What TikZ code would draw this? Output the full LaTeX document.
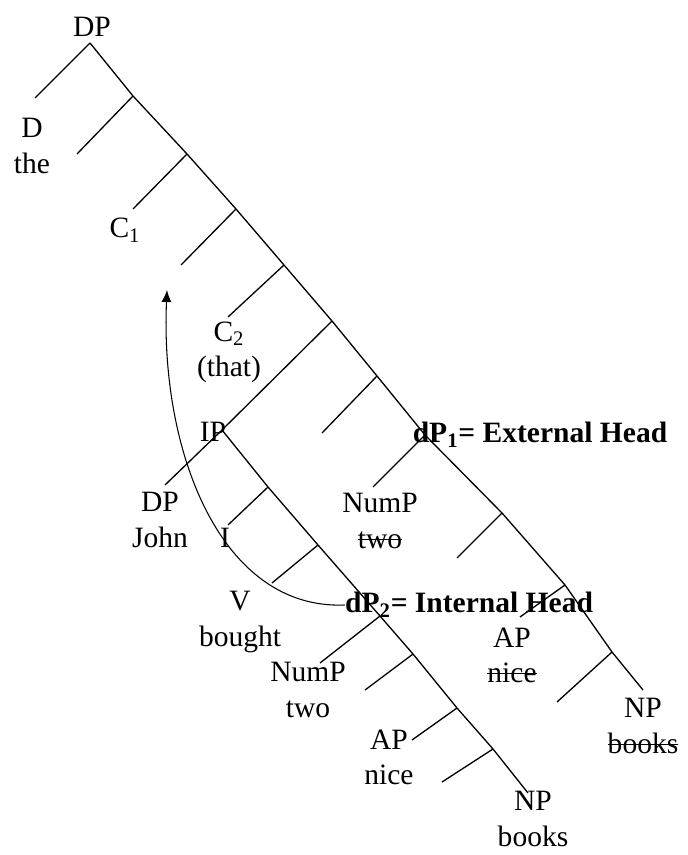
\documentclass[tikz,border=0pt]{standalone}
\usepackage{fontspec}
\setmainfont{Liberation Serif}
\usepackage{tikz}
\usetikzlibrary{arrows.meta,positioning,calc}
\newcommand\struck[1]{\setbox0\hbox{#1}\rlap{\rule[0.28em]{\wd0}{0.6pt}}\box0}

\begin{document}
\begin{tikzpicture}[
  lbl/.style={align=center, inner sep=0pt, font=\fontsize{16.8}{20}\selectfont},
  headlbl/.style={lbl, font=\fontsize{16.8}{20}\selectfont\bfseries},
  br/.style={line width=0.75pt},
  >=Stealth
]
\useasboundingbox (0,0) rectangle (13.74,-17.10);

% outer spine (DP ... dP1)
\coordinate (t0) at (1.80,-0.86);
\coordinate (t1) at (2.66,-1.92);
\coordinate (t2) at (3.74,-3.08);
\coordinate (t3) at (4.72,-4.18);
\coordinate (t4) at (5.68,-5.30);
\coordinate (t5) at (6.64,-6.42);
\coordinate (t6) at (7.54,-7.52);
\coordinate (d1) at (8.50,-8.70);
\coordinate (t7) at (10.04,-10.26);
\coordinate (t8) at (11.30,-11.70);
\coordinate (t9) at (12.24,-13.04);
\coordinate (t10) at (12.86,-13.80);

% inner spine (IP ... dP2)
\coordinate (ipv) at (4.44,-8.60);
\coordinate (i1) at (5.36,-9.74);
\coordinate (i2) at (6.36,-10.90);
\coordinate (d2) at (7.60,-12.32);
\coordinate (i3) at (8.26,-13.08);
\coordinate (i4) at (9.14,-14.16);
\coordinate (i5) at (9.86,-14.98);
\coordinate (i6) at (10.56,-15.86);

% branch ends
\coordinate (dend) at (0.70,-1.96);
\coordinate (b1) at (1.54,-3.08);
\coordinate (cone) at (2.66,-4.18);
\coordinate (b3) at (3.62,-5.30);
\coordinate (ctwo) at (4.56,-6.34);
\coordinate (johnend) at (3.30,-9.70);
\coordinate (b6) at (6.44,-8.66);
\coordinate (numend) at (7.46,-9.74);
\coordinate (b7) at (9.14,-11.16);
\coordinate (apend) at (10.40,-12.34);
\coordinate (b9) at (11.14,-14.04);
\coordinate (iend) at (4.56,-10.50);
\coordinate (vend) at (5.44,-11.66);
\coordinate (numtwoend) at (6.40,-13.26);
\coordinate (c3) at (7.30,-13.80);
\coordinate (aptwoend) at (8.24,-14.80);
\coordinate (c5) at (8.84,-15.64);
\coordinate (landing) at (3.34,-5.80);

% labels
\node[lbl] (dp) at (1.84,-0.54) {DP};
\node[lbl] (dthe) at (0.64,-2.92) {D\\the};
\node[lbl] (cone lbl) at (2.50,-4.60) {C\textsubscript{1}};
\node[lbl] (ctwo lbl) at (4.58,-7.04) {C\textsubscript{2}\\(that)};
\node[lbl] (ip) at (4.26,-8.64) {IP};
\node[lbl] (john) at (3.20,-10.40) {DP\\John};
\node[lbl] (infl) at (4.50,-10.76) {I};
\node[lbl] (bought) at (4.80,-12.44) {V\\bought};
\node[lbl] (numone) at (7.60,-10.42) {NumP\\\struck{two}};
\node[headlbl] (dpone) at (10.80,-8.70) {dP\textsubscript{1}= External Head};
\node[headlbl] (dptwo) at (9.38,-12.10) {dP\textsubscript{2}= Internal Head};
\node[lbl] (numtwo) at (6.16,-13.80) {NumP\\two};
\node[lbl] (apone) at (10.24,-13.10) {AP\\\struck{nice}};
\node[lbl] (aptwo) at (7.78,-15.14) {AP\\nice};
\node[lbl] (npone) at (12.86,-14.52) {NP\\\struck{books}};
\node[lbl] (nptwo) at (10.66,-16.38) {NP\\books};

% spines
\draw[br] (t0) -- (t1) -- (t2) -- (t3) -- (t4) -- (t5) -- (t6) -- (d1) -- (t7) -- (t8) -- (t9) -- (t10);
\draw[br] (t5) -- (ipv) -- (johnend);
\draw[br] (ipv) -- (i1) -- (i2) -- (d2) -- (i3) -- (i4) -- (i5) -- (i6);

% left branches
\draw[br] (t0) -- (dend);
\draw[br] (t1) -- (b1);
\draw[br] (t2) -- (cone);
\draw[br] (t3) -- (b3);
\draw[br] (t4) -- (ctwo);
\draw[br] (t6) -- (b6);
\draw[br] (d1) -- (numend);
\draw[br] (t7) -- (b7);
\draw[br] (t8) -- (apend);
\draw[br] (t9) -- (b9);
\draw[br] (i1) -- (iend);
\draw[br] (i2) -- (vend);
\draw[br] (d2) -- (numtwoend);
\draw[br] (i3) -- (c3);
\draw[br] (i4) -- (aptwoend);
\draw[br] (i5) -- (c5);

% movement
\draw[-{Latex[length=2.4mm,width=2mm]}, line width=0.6pt] (dptwo.west) .. controls (4.40,-12.20) and (3.20,-9.00) .. (landing);
\end{tikzpicture}
\end{document}
